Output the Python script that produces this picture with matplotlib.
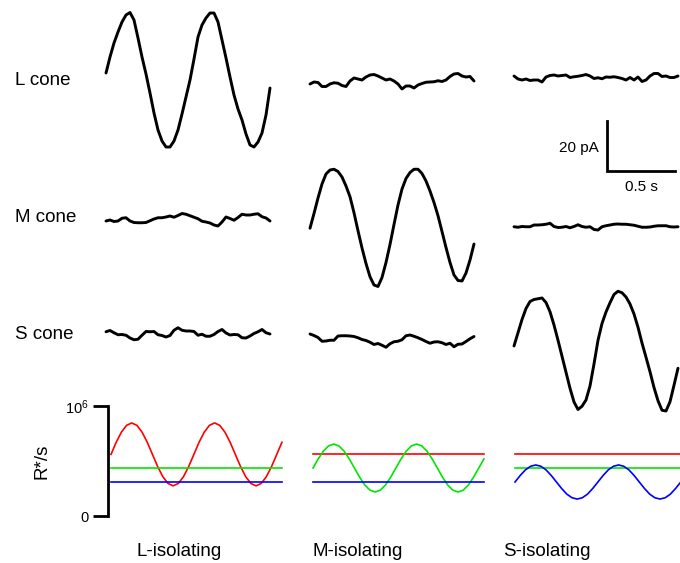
import numpy as np
import matplotlib
matplotlib.use('Agg')
import matplotlib.pyplot as plt

plt.rcParams['font.family'] = ['Liberation Sans', 'DejaVu Sans']
plt.rcParams['mathtext.fontset'] = 'custom'
plt.rcParams['mathtext.rm'] = 'Liberation Sans'

# ---------------- data ----------------
cone_labels = ['L cone', 'M cone', 'S cone']
stim_labels = ['L-isolating', 'M-isolating', 'S-isolating']

# photocurrent responses (pA), sampled every 0.029 s over 1.2 s
l_cone_l_iso = [2.4, 8.8, 14.4, 18.8, 22.8, 25.6, 26.6, 23.6, 16.4, 8.8,
                2.0, -5.6, -13.6, -20.4, -24.8, -27.2, -27.2, -24.8, -20.4, -14.0,
                -7.2, -0.4, 8.0, 16.8, 21.6, 24.4, 26.4, 26.4, 22.8, 15.6,
                8.4, 0.8, -6.4, -12.0, -16.4, -22.0, -26.4, -27.2, -25.2, -21.6,
                -14.4, -3.6]
l_cone_m_iso = [-2.0, -1.2, -1.4, -3.0, -3.0, -2.0, -1.5, -1.7, -2.6, -3.0,
                -0.8, 0.4, 0.0, -0.4, 0.8, 1.6, 1.8, 1.2, 0.4, -0.4,
                0.0, -0.8, -2.0, -4.0, -2.8, -2.8, -3.6, -2.4, -1.8, -1.3,
                -1.2, -1.1, -0.7, -1.0, -0.4, 1.0, 2.0, 2.2, 1.2, 0.8,
                1.0, -0.8]
l_cone_s_iso = [1.2, 0.0, -0.4, 0.0, -0.6, -0.4, -0.4, -1.2, 0.8, 1.4,
                1.6, 1.2, 1.4, 1.6, 0.6, 0.9, 1.1, 1.4, 1.8, 1.2,
                0.2, 0.5, 0.1, 0.8, 0.7, 0.9, 0.6, 0.2, -0.4, 0.6,
                -0.4, 0.8, -1.0, -0.4, 1.2, 2.2, 2.2, 1.0, 1.2, 0.6,
                0.6, 1.2]
m_cone_l_iso = [0.4, 0.8, 0.2, 0.4, 1.5, 1.7, 0.4, -0.2, -0.3, -0.3,
                -0.2, 0.5, 1.2, 1.7, 1.7, 2.0, 2.4, 1.9, 2.6, 3.4,
                3.1, 2.5, 1.9, 1.3, 0.3, 0.0, -0.4, -1.2, -1.6, 0.0,
                2.0, 1.4, 0.7, 1.8, 3.1, 2.8, 2.8, 3.1, 3.3, 2.1,
                1.6, 0.4]
m_cone_m_iso = [-2.5, 3.4, 9.6, 15.2, 19.2, 20.8, 21.1, 20.2, 18.0, 14.4,
                10.1, 3.7, -3.5, -10.4, -16.6, -21.9, -25.2, -25.8, -22.2, -16.2,
                -9.0, -1.0, 6.8, 13.2, 17.4, 19.8, 21.1, 21.1, 19.4, 16.4,
                12.4, 7.8, 2.5, -3.8, -10.2, -16.2, -21.2, -23.4, -23.6, -20.4,
                -15.2, -8.8]
m_cone_s_iso = [-1.9, -2.1, -1.8, -1.9, -1.9, -1.2, -1.2, -1.1, -0.9, -0.5,
                -1.8, -2.2, -2.1, -1.8, -2.3, -1.8, -1.1, -1.8, -2.1, -1.9,
                -3.0, -3.2, -1.9, -1.5, -1.2, -0.9, -0.8, -0.9, -0.9, -1.1,
                -1.3, -1.7, -2.1, -2.1, -2.0, -1.7, -1.5, -1.5, -1.5, -1.9,
                -2.0, -1.9]
s_cone_l_iso = [3.3, 3.8, 2.9, 2.1, 2.2, 1.9, 0.8, 0.1, 0.3, 1.9,
                3.4, 3.3, 3.4, 2.1, 1.8, 1.2, 1.8, 3.9, 4.9, 3.9,
                3.6, 3.6, 3.4, 1.9, 2.3, 1.5, 1.5, 2.2, 3.4, 4.2,
                2.8, 2.0, 2.2, 2.1, 0.9, 0.8, 1.6, 2.6, 3.3, 4.2,
                2.9, 2.4]
s_cone_m_iso = [2.4, 1.8, 1.0, -0.5, -0.4, -0.1, -0.1, 1.6, 1.7, 1.7,
                1.6, 1.4, 0.9, 0.2, -0.2, -0.9, -1.8, -1.4, -2.1, -2.9,
                -1.5, -0.7, -0.5, 0.1, 1.7, 2.0, 1.5, 0.9, 0.2, -0.6,
                -1.3, -0.8, -0.7, -1.1, -1.8, -1.3, -2.7, -1.7, -1.6, -0.6,
                0.5, 1.4]
s_cone_s_iso = [-2.4, 2.9, 8.2, 12.6, 15.4, 16.2, 16.5, 16.8, 15.0, 11.3,
                6.0, -0.1, -6.5, -12.9, -19.3, -24.8, -27.8, -26.5, -24.0, -18.4,
                -9.6, -0.1, 6.6, 11.2, 14.9, 18.2, 19.5, 18.9, 17.2, 14.4,
                10.4, 5.1, -1.2, -6.9, -12.7, -19.0, -24.3, -28.1, -28.4, -24.7,
                -18.1, -11.3]
TRACE_DURATION = 1.2  # s

# stimuli: isomerisation rates (x 1e6 R*/s), sampled every 0.038 s
l_iso_L = [0.560, 0.670, 0.762, 0.824, 0.846, 0.824, 0.762, 0.670, 0.560, 0.450,
           0.358, 0.296, 0.274, 0.296, 0.358, 0.450, 0.560, 0.670, 0.762, 0.824,
           0.846, 0.824, 0.762, 0.670, 0.560, 0.450, 0.358, 0.296, 0.274, 0.296,
           0.358, 0.450, 0.560, 0.670]
m_iso_M = [0.436, 0.519, 0.590, 0.637, 0.654, 0.637, 0.590, 0.519, 0.436, 0.353,
           0.282, 0.235, 0.218, 0.235, 0.282, 0.353, 0.436, 0.519, 0.590, 0.637,
           0.654, 0.637, 0.590, 0.519, 0.436, 0.353, 0.282, 0.235, 0.218, 0.235,
           0.282, 0.353, 0.436, 0.519]
s_iso_S = [0.309, 0.368, 0.419, 0.452, 0.464, 0.452, 0.419, 0.368, 0.309, 0.250,
           0.199, 0.166, 0.154, 0.166, 0.199, 0.250, 0.309, 0.368, 0.419, 0.452,
           0.464, 0.452, 0.419, 0.368, 0.309, 0.250, 0.199, 0.166, 0.154, 0.166,
           0.199, 0.250, 0.309, 0.368]
background = [0.560, 0.436, 0.309]   # L, M, S (x 1e6 R*/s)
STIM_T0 = 0.022
STIM_DT = 0.0379

SCALE_PA = 20
SCALE_S = 0.5

responses = [[l_cone_l_iso, l_cone_m_iso, l_cone_s_iso],
             [m_cone_l_iso, m_cone_m_iso, m_cone_s_iso],
             [s_cone_l_iso, s_cone_m_iso, s_cone_s_iso]]
modulated = [l_iso_L, m_iso_M, s_iso_S]
stim_colors = ['#ff0000', '#00e600', '#0000ff']

# ---------------- layout ----------------
W, H = 680, 563
fig = plt.figure(figsize=(W / 100, H / 100), dpi=100)
PX_PER_S = 136.67
PX_PER_PA = 2.5
YLIM = 30

def px_axes(left, top, width, height):
    ax = fig.add_axes([left / W, 1 - (top + height) / H, width / W, height / H])
    ax.set_facecolor('none')
    return ax

trace_x0 = [106, 310, 514]
row_center = [79, 222, 340]
label_baseline = [85, 222, 339]

for r in range(3):
    for c in range(3):
        ax = px_axes(trace_x0[c], row_center[r] - YLIM * PX_PER_PA,
                     TRACE_DURATION * PX_PER_S, 2 * YLIM * PX_PER_PA)
        y = np.array(responses[r][c])
        t = np.linspace(0, TRACE_DURATION, len(y))
        ax.plot(t, y, color='black', lw=2.1, solid_joinstyle='round',
                solid_capstyle='round', clip_on=False)
        ax.set_xlim(0, TRACE_DURATION)
        ax.set_ylim(-YLIM, YLIM)
        ax.axis('off')

for r, lab in enumerate(cone_labels):
    fig.text(15 / W, 1 - label_baseline[r] / H, lab, fontsize=13.5,
             ha='left', va='baseline')

# scale bar
sb = px_axes(607, 171 - SCALE_PA * PX_PER_PA, SCALE_S * PX_PER_S, SCALE_PA * PX_PER_PA)
sb.plot([0, 0, SCALE_S], [SCALE_PA, 0, 0], color='black', lw=2.0,
        solid_joinstyle='miter', clip_on=False)
sb.set_xlim(0, SCALE_S)
sb.set_ylim(0, SCALE_PA)
sb.axis('off')
sb.annotate(f'{SCALE_PA} pA', xy=(0, SCALE_PA * 0.45), xytext=(-6, 0),
            textcoords='offset points', ha='right', va='center', fontsize=11)
sb.annotate(f'{SCALE_S} s', xy=(SCALE_S / 2, 0), xytext=(0, -11.5),
            textcoords='offset points', ha='center', va='center', fontsize=11)

# stimulus panels
stim_x0 = [108, 310, 512]
STIM_XMAX = 1.3
for c in range(3):
    ax = px_axes(stim_x0[c], 406, STIM_XMAX * PX_PER_S, 110)
    ts = STIM_T0 + np.arange(len(modulated[c])) * STIM_DT
    for k in range(3):
        if k == c:
            ax.plot(ts, np.array(modulated[c]) * 1e6, color=stim_colors[k], lw=1.2)
        else:
            ax.plot([ts[0], ts[-1]], [background[k] * 1e6] * 2,
                    color=stim_colors[k], lw=1.2)
    ax.set_xlim(0, STIM_XMAX)
    ax.set_ylim(0, 1e6)
    for s in ['top', 'right', 'bottom']:
        ax.spines[s].set_visible(False)
    ax.set_xticks([])
    if c == 0:
        ax.spines['left'].set_linewidth(2.0)
        ax.set_yticks([0, 1e6])
        ax.set_yticklabels(['0', r'$\mathregular{10^6}$'], fontsize=10.5)
        ax.tick_params(axis='y', length=11, width=2.0, pad=3)
    else:
        ax.spines['left'].set_visible(False)
        ax.set_yticks([])
    fig.text([179.5, 358, 546.5][c] / W, 1 - 556 / H, stim_labels[c],
             fontsize=13.5, ha='center', va='baseline')

fig.text(42 / W, 1 - 461 / H, 'R*/s', fontsize=13.5, rotation=90,
         ha='center', va='center')

fig.savefig('out.png', dpi=100)
